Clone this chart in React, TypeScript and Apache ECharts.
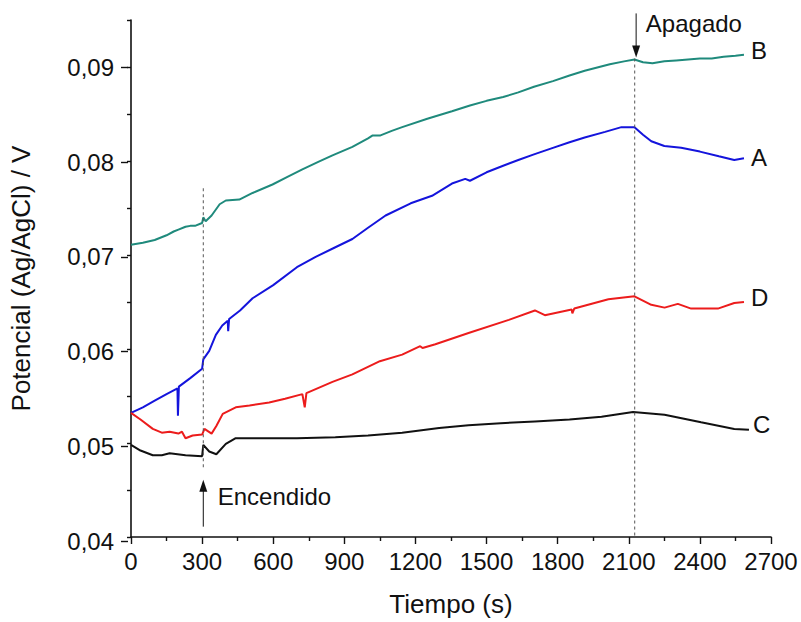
import React, { useEffect, useRef } from 'react';
import * as echarts from 'echarts';

const FONT = '"Liberation Sans", Arial, Helvetica, sans-serif';

// Time (s) / potential (V) readings for each curve
const curveB: [number, number][] = [
  [0, 0.0711], [50, 0.0713], [100, 0.0716], [150, 0.0721], [180, 0.0725], [200, 0.0727],
  [230, 0.0730], [250, 0.0731], [270, 0.0731], [300, 0.0734], [305, 0.0740], [315, 0.0736],
  [340, 0.0742], [374, 0.0754], [400, 0.0758], [457, 0.0759], [513, 0.0766], [597, 0.0775],
  [660, 0.0783], [723, 0.0791], [790, 0.0799], [850, 0.0806], [934, 0.0815], [1000, 0.0824],
  [1018, 0.0827], [1050, 0.0827], [1100, 0.0832], [1144, 0.0836], [1250, 0.0845], [1354, 0.0853],
  [1430, 0.0859], [1500, 0.0864], [1570, 0.0868], [1634, 0.0873], [1700, 0.0879], [1780, 0.0885],
  [1850, 0.0891], [1914, 0.0896], [2020, 0.0903], [2080, 0.0906], [2124, 0.0908], [2160, 0.0905],
  [2200, 0.0904], [2250, 0.0906], [2300, 0.0907], [2350, 0.0908], [2400, 0.0909], [2450, 0.0909],
  [2500, 0.0911], [2550, 0.0912], [2586, 0.0913],
];

const curveA: [number, number][] = [
  [0, 0.0532], [50, 0.0538], [100, 0.0545], [150, 0.0552], [196, 0.0558], [198, 0.0529],
  [202, 0.0560], [250, 0.0569], [300, 0.0579], [305, 0.0589], [330, 0.0598], [358, 0.0615],
  [385, 0.0625], [408, 0.0630], [410, 0.0619], [414, 0.0632], [460, 0.0641], [513, 0.0654],
  [600, 0.0668], [700, 0.0687], [779, 0.0698], [860, 0.0708], [934, 0.0717], [1000, 0.0729],
  [1074, 0.0742], [1180, 0.0755], [1270, 0.0763], [1354, 0.0776], [1410, 0.0781], [1430, 0.0779],
  [1500, 0.0788], [1570, 0.0795], [1634, 0.0801], [1700, 0.0807], [1780, 0.0814], [1850, 0.0820],
  [1914, 0.0825], [2000, 0.0831], [2069, 0.0836], [2124, 0.0836], [2160, 0.0828], [2195, 0.0821],
  [2250, 0.0816], [2321, 0.0814], [2400, 0.0810], [2480, 0.0805], [2545, 0.0801], [2586, 0.0803],
];

const curveD: [number, number][] = [
  [0, 0.0532], [40, 0.0525], [92, 0.0515], [130, 0.0511], [163, 0.0512], [200, 0.0510],
  [215, 0.0512], [230, 0.0505], [260, 0.0508], [300, 0.0509], [310, 0.0515], [340, 0.0510],
  [360, 0.0518], [387, 0.0531], [442, 0.0538], [500, 0.0540], [583, 0.0543], [650, 0.0547],
  [723, 0.0552], [733, 0.0538], [740, 0.0553], [850, 0.0565], [934, 0.0573], [1050, 0.0587],
  [1144, 0.0594], [1220, 0.0603], [1230, 0.0601], [1284, 0.0605], [1424, 0.0617], [1594, 0.0631],
  [1704, 0.0641], [1746, 0.0636], [1859, 0.0642], [1862, 0.0638], [1870, 0.0643], [2014, 0.0653],
  [2124, 0.0656], [2195, 0.0647], [2251, 0.0644], [2307, 0.0648], [2363, 0.0643], [2476, 0.0643],
  [2545, 0.0649], [2586, 0.0650],
];

const curveC: [number, number][] = [
  [0, 0.0498], [40, 0.0492], [92, 0.0487], [130, 0.0487], [163, 0.0489], [230, 0.0487],
  [300, 0.0486], [305, 0.0498], [330, 0.0491], [360, 0.0488], [400, 0.0499], [440, 0.0505],
  [583, 0.0505], [700, 0.0505], [862, 0.0506], [1000, 0.0508], [1144, 0.0511], [1300, 0.0516],
  [1424, 0.0519], [1560, 0.0521], [1704, 0.0523], [1850, 0.0525], [1985, 0.0528], [2118, 0.0533],
  [2251, 0.0530], [2405, 0.0522], [2545, 0.0515], [2607, 0.0514],
];

const seriesNames = ['B', 'A', 'D', 'C'];
const seriesData = [curveB, curveA, curveD, curveC];
const seriesColors = ['#1f8a7c', '#1414dc', '#ec1c1c', '#111111'];

const xMin = 0;
const xMax = 2700;
const xInterval = 300;
const yMin = 0.04;
const yMax = 0.095;
const yLabelMax = 0.09;
const yInterval = 0.01;
const yMinorInterval = 0.005;

const xTitle = 'Tiempo (s)';
const yTitle = 'Potencial (Ag/AgCl) / V';

// Event annotations (time in s, potentials in V)
const onTime = 305;
const onText = 'Encendido';
const offTime = 2125;
const offText = 'Apagado';

const W = 801;
const H = 622;
const GRID_LEFT = 128;
const GRID_RIGHT = 30;
const GRID_TOP = 20;
const GRID_BOTTOM = 81;

export default function App() {
  const ref = useRef<HTMLDivElement>(null);

  useEffect(() => {
    if (!ref.current) return;
    const chart = echarts.init(ref.current, undefined, { renderer: 'svg' });
    const plotH = H - GRID_TOP - GRID_BOTTOM;
    const labelGridTop = GRID_TOP + (plotH * (yMax - yLabelMax)) / (yMax - yMin);

    const endOffsets: Record<string, [number, number]> = {
      B: [0, -4], A: [0, -1], D: [0, -5], C: [0, -5],
    };
    const endDist: Record<string, number> = { B: 7, A: 7, D: 7, C: 4 };

    chart.setOption({
      animation: false,
      backgroundColor: '#ffffff',
      textStyle: { fontFamily: FONT },
      grid: [
        { left: GRID_LEFT, right: GRID_RIGHT, top: GRID_TOP, bottom: GRID_BOTTOM, containLabel: false },
        { left: GRID_LEFT, right: GRID_RIGHT, top: labelGridTop, bottom: GRID_BOTTOM, containLabel: false },
      ],
      xAxis: [
        {
          type: 'value',
          gridIndex: 0,
          min: xMin,
          max: xMax,
          interval: xInterval,
          name: xTitle,
          nameLocation: 'middle',
          nameGap: 54,
          nameTextStyle: { fontSize: 26, color: '#111', fontFamily: FONT },
          axisLine: { show: true, onZero: false, lineStyle: { color: '#111', width: 1.6 } },
          axisTick: { show: true, inside: false, length: 7, lineStyle: { color: '#111', width: 1.4 } },
          minorTick: { show: true, splitNumber: 2, length: 4, lineStyle: { color: '#111', width: 1.4 } },
          axisLabel: {
            fontSize: 24,
            color: '#111',
            margin: 12,
            fontFamily: FONT,
            formatter: (v: number) => String(Math.round(v)),
          },
          splitLine: { show: false },
          minorSplitLine: { show: false },
        },
        {
          type: 'value',
          gridIndex: 1,
          min: xMin,
          max: xMax,
          interval: xInterval,
          show: false,
        },
      ],
      yAxis: [
        {
          type: 'value',
          gridIndex: 0,
          min: yMin,
          max: yMax,
          interval: yMinorInterval,
          name: yTitle,
          nameLocation: 'middle',
          nameGap: 97,
          nameTextStyle: { fontSize: 26, color: '#111', fontFamily: FONT },
          axisLine: { show: true, onZero: false, lineStyle: { color: '#111', width: 1.6 } },
          axisTick: { show: true, inside: false, length: 4, lineStyle: { color: '#111', width: 1.4 } },
          axisLabel: { show: false },
          splitLine: { show: false },
        },
        {
          type: 'value',
          gridIndex: 1,
          min: yMin,
          max: yLabelMax,
          interval: yInterval,
          axisLine: { show: false },
          axisTick: { show: true, inside: false, length: 7, lineStyle: { color: '#111', width: 1.4 } },
          axisLabel: {
            fontSize: 24,
            color: '#111',
            margin: 14,
            fontFamily: FONT,
            formatter: (v: number) => v.toFixed(2).replace('.', ','),
          },
          splitLine: { show: false },
        },
      ],
      series: seriesNames.map((name, i) => ({
        type: 'line',
        name,
        xAxisIndex: 0,
        yAxisIndex: 0,
        data: seriesData[i],
        showSymbol: false,
        symbol: 'none',
        smooth: false,
        lineStyle: { color: seriesColors[i], width: 2 },
        itemStyle: { color: seriesColors[i] },
        endLabel: {
          show: true,
          formatter: name,
          color: '#111',
          fontSize: 24,
          fontFamily: FONT,
          distance: endDist[name],
          offset: endOffsets[name],
        },
        z: 3,
      })),
    });

    const px = (t: number, v: number) =>
      chart.convertToPixel({ xAxisIndex: 0, yAxisIndex: 0 }, [t, v]) as number[];

    const dash = { stroke: '#555', lineWidth: 1, lineDash: [3, 3] };
    const arrowStyle = { stroke: '#111', lineWidth: 1 };

    const d1a = px(onTime, 0.0771);
    const d1b = px(onTime, 0.0472);
    const a1s = px(onTime, 0.0411);
    const a1t = px(onTime, 0.0461);
    const t1 = px(366, 0.0443);

    const d2a = px(offTime, 0.0909);
    const d2b = px(offTime, 0.04);
    const a2s = px(offTime + 6, 0.0957);
    const a2t = px(offTime + 6, 0.0910);
    const t2 = px(2172, 0.0946);

    const headH = 12;
    const headW = 4;

    chart.setOption({
      graphic: [
        { type: 'line', shape: { x1: d1a[0], y1: d1a[1], x2: d1b[0], y2: d1b[1] }, style: dash, z: 10 },
        { type: 'line', shape: { x1: a1s[0], y1: a1s[1], x2: a1t[0], y2: a1t[1] + headH - 1 }, style: arrowStyle, z: 10 },
        {
          type: 'polygon',
          shape: { points: [[a1t[0], a1t[1]], [a1t[0] - headW, a1t[1] + headH], [a1t[0] + headW, a1t[1] + headH]] },
          style: { fill: '#111' },
          z: 10,
        },
        {
          type: 'text', x: t1[0], y: t1[1],
          style: { text: onText, fontSize: 24, fontFamily: FONT, fill: '#111', align: 'left', verticalAlign: 'middle' },
          z: 10,
        },
        { type: 'line', shape: { x1: d2a[0], y1: d2a[1], x2: d2b[0], y2: d2b[1] }, style: dash, z: 10 },
        { type: 'line', shape: { x1: a2s[0], y1: a2s[1], x2: a2t[0], y2: a2t[1] - headH + 1 }, style: arrowStyle, z: 10 },
        {
          type: 'polygon',
          shape: { points: [[a2t[0], a2t[1]], [a2t[0] - headW, a2t[1] - headH], [a2t[0] + headW, a2t[1] - headH]] },
          style: { fill: '#111' },
          z: 10,
        },
        {
          type: 'text', x: t2[0], y: t2[1],
          style: { text: offText, fontSize: 24, fontFamily: FONT, fill: '#111', align: 'left', verticalAlign: 'middle' },
          z: 10,
        },
      ],
    });

    return () => chart.dispose();
  }, []);

  return (
    <div
      ref={ref}
      style={{ position: 'fixed', left: 0, top: 0, width: W, height: H, background: '#fff' }}
    />
  );
}
